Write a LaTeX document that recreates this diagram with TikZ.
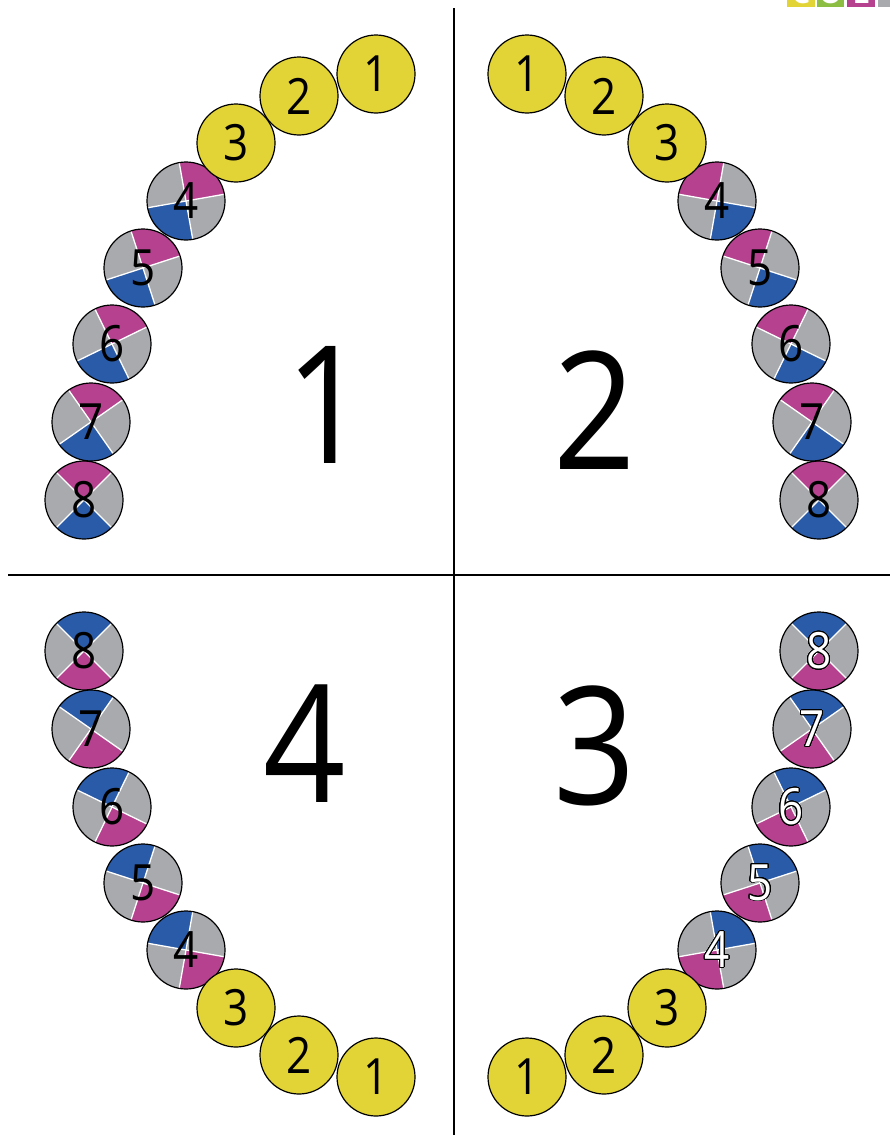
\documentclass[tikz,border=0pt]{standalone}
\usepackage{fontspec}
\setmainfont{Open Sans}[FakeStretch=0.88]
\usepackage{contour}
\contourlength{0.7pt}
\contournumber{32}
\definecolor{toothyellow}{HTML}{E2D336}
\definecolor{toothmag}{HTML}{B5418F}
\definecolor{toothblue}{HTML}{2A5BA8}
\definecolor{toothgray}{HTML}{A8AAAD}
\definecolor{logogreen}{HTML}{8DBE44}
\tikzset{
  ytooth/.style={circle, draw=black, fill=toothyellow, line width=1.2pt, minimum size=78pt, inner sep=0pt, font=\fontsize{50}{50}\selectfont},
  ctooth/.style={circle, draw=black, line width=1.2pt, minimum size=78pt, inner sep=0pt, font=\fontsize{50}{50}\selectfont},
  sepline/.style={white, line width=1.3pt},
  quadline/.style={black, line width=1.6pt},
  bignum/.style={inner sep=0pt, font=\fontsize{164}{164}\selectfont},
  logoletter/.style={inner sep=0pt, anchor=base, text=white, font=\bfseries\fontsize{34}{34}\selectfont}
}
\newcommand{\ytooth}[4]{\node[ytooth] (#1) at (#2,#3) {#4};}
\newcommand{\ctooth}[5]{%
  \begin{scope}[shift={(#2,#3)}]
    \pgfmathsetmacro{\ta}{#4}
    \fill[toothmag] (0,0) -- ({\ta-45}:39) arc[start angle={\ta-45}, end angle={\ta+45}, radius=39] -- cycle;
    \fill[toothgray] (0,0) -- ({\ta+45}:39) arc[start angle={\ta+45}, end angle={\ta+135}, radius=39] -- cycle;
    \fill[toothblue] (0,0) -- ({\ta+135}:39) arc[start angle={\ta+135}, end angle={\ta+225}, radius=39] -- cycle;
    \fill[toothgray] (0,0) -- ({\ta+225}:39) arc[start angle={\ta+225}, end angle={\ta+315}, radius=39] -- cycle;
    \draw[sepline] ({\ta+45}:39) -- ({\ta+225}:39);
    \draw[sepline] ({\ta-45}:39) -- ({\ta+135}:39);
  \end{scope}
  \node[ctooth] (#1) at (#2,#3) {#5};}
\newcommand{\wdig}[1]{\textcolor{white}{\contour{black}{#1}}}
\begin{document}
\begin{tikzpicture}[x=1pt,y=-1pt]
\useasboundingbox (0,0) rectangle (890,1135);
\clip (0,0) rectangle (890,1135);
% logo (cut off at the top)
\fill[toothyellow] (787,-30) rectangle (815,7);
\fill[logogreen] (817,-30) rectangle (844,7);
\fill[toothmag] (847,-30) rectangle (875,7);
\fill[toothgray] (878,-30) rectangle (905,7);
\node[logoletter] (lc) at (801,3) {C};
\node[logoletter] (lo) at (830.5,3) {O};
\node[logoletter] (ll) at (861,3) {L};
% quadrant lines
\coordinate (vtop) at (454,8);
\coordinate (vbot) at (454,1135);
\coordinate (hleft) at (8,575);
\coordinate (hright) at (890,575);
\draw[quadline] (vtop) -- (vbot);
\draw[quadline] (hleft) -- (hright);
% quadrant numbers
\node[bignum] (n1) at (327,405) {1};
\node[bignum] (n2) at (595,410) {2};
\node[bignum] (n4) at (305,744) {4};
\node[bignum] (n3) at (595,746) {3};
% quadrant 1
\ctooth{a8}{84}{500}{-90}{8}
\ctooth{a7}{91}{422}{-80}{7}
\ctooth{a6}{112}{344}{-71}{6}
\ctooth{a5}{143}{268}{-63}{5}
\ctooth{a4}{186}{201}{-55}{4}
\ytooth{a3}{236}{143}{3}
\ytooth{a2}{299}{96}{2}
\ytooth{a1}{376}{74}{1}
% quadrant 2
\ctooth{b8}{819}{500}{-90}{8}
\ctooth{b7}{812}{422}{-100}{7}
\ctooth{b6}{791}{344}{-109}{6}
\ctooth{b5}{760}{268}{-117}{5}
\ctooth{b4}{717}{201}{-125}{4}
\ytooth{b3}{667}{143}{3}
\ytooth{b2}{604}{96}{2}
\ytooth{b1}{527}{74}{1}
% quadrant 3
\ctooth{c8}{819}{651}{90}{\wdig{8}}
\ctooth{c7}{812}{729}{100}{\wdig{7}}
\ctooth{c6}{791}{807}{109}{\wdig{6}}
\ctooth{c5}{760}{883}{117}{\wdig{5}}
\ctooth{c4}{717}{950}{125}{\wdig{4}}
\ytooth{c3}{667}{1008}{3}
\ytooth{c2}{604}{1055}{2}
\ytooth{c1}{527}{1077}{1}
% quadrant 4
\ctooth{d8}{84}{651}{90}{8}
\ctooth{d7}{91}{729}{80}{7}
\ctooth{d6}{112}{807}{71}{6}
\ctooth{d5}{143}{883}{63}{5}
\ctooth{d4}{186}{950}{55}{4}
\ytooth{d3}{236}{1008}{3}
\ytooth{d2}{299}{1055}{2}
\ytooth{d1}{376}{1077}{1}
\end{tikzpicture}
\end{document}
